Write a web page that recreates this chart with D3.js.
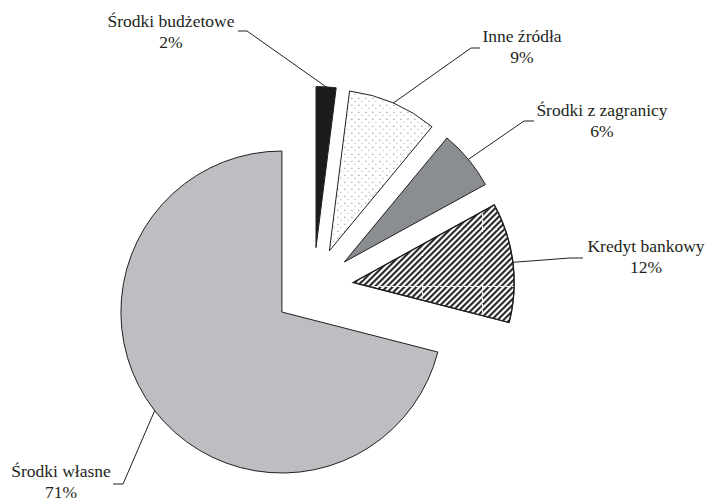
<!DOCTYPE html>
<html>
<head>
<meta charset="utf-8">
<script src="https://cdn.jsdelivr.net/npm/d3@7"></script>
<style>
  body { margin: 0; background: #ffffff; }
</style>
</head>
<body>
<div id="chart"></div>
<script>
const categories = ["Środki budżetowe", "Inne źródła", "Środki z zagranicy", "Kredyt bankowy", "Środki własne"];
const values = [2, 9, 6, 12, 71];
const percentLabels = ["2%", "9%", "6%", "12%", "71%"];

const width = 706, height = 501;
const center = [313.5, 287.5],
  radius = 161,
  explode = 40;

// label placement: text centre, elbow of the leader, end of the leader
const labelLayout = [
  {tx: 171, ty: 27, elbow: [247, 31], end: [238, 31]},
  {tx: 522, ty: 42, elbow: [471, 48], end: [480, 48]},
  {tx: 602, ty: 116, elbow: [524, 121], end: [534, 121]},
  {tx: 646, ty: 252, elbow: [570, 258], end: [583, 258]},
  {tx: 61, ty: 477, elbow: [123, 484], end: [113, 484]}
];

const fills = ["#1d1b1c", "url(#dots)", "#8a8d92", "url(#hatch)", "#bcbec1"];
const fontStack = "'Times New Roman', Times, 'Liberation Serif', serif";

const pie = d3.pie().sort(null).value(d => d)(values);
const arc = d3.arc().innerRadius(0).outerRadius(radius);
const offset = d => {
  const a = (d.startAngle + d.endAngle) / 2;
  return [explode * Math.sin(a), -explode * Math.cos(a)];
};

const svg = d3.select("#chart")
  .append("svg")
  .attr("width", width)
  .attr("height", height);

const defs = svg.append("defs");

// dotted fill
const dots = defs.append("pattern")
  .attr("id", "dots")
  .attr("patternUnits", "userSpaceOnUse")
  .attr("width", 7)
  .attr("height", 7);
dots.append("rect").attr("width", 7).attr("height", 7).attr("fill", "#ffffff");
dots.append("rect").attr("x", 1).attr("y", 1).attr("width", 1).attr("height", 1).attr("fill", "#6a6a6a");
dots.append("rect").attr("x", 4).attr("y", 4).attr("width", 1).attr("height", 1).attr("fill", "#a0a0a0");

// diagonal hatch, built from whole pixels so it stays crisp
const hatchSize = 6;
const hatch = defs.append("pattern")
  .attr("id", "hatch")
  .attr("patternUnits", "userSpaceOnUse")
  .attr("width", hatchSize)
  .attr("height", hatchSize);
hatch.append("rect").attr("width", hatchSize).attr("height", hatchSize).attr("fill", "#ffffff");
for (let x = 0; x < hatchSize; x++) {
  for (let y = 0; y < hatchSize; y++) {
    const k = (x + y) % hatchSize;
    if (k < 3) {
      hatch.append("rect")
        .attr("x", x).attr("y", y)
        .attr("width", 1).attr("height", 1)
        .attr("fill", k === 2 ? "#555555" : "#111111")
        .attr("shape-rendering", "crispEdges");
    }
  }
}

// white dashed grid seen over the hatch (placed in page coords, slice is translated)
const kOff = offset(pie[3]);
const grid = defs.append("pattern")
  .attr("id", "grid")
  .attr("patternUnits", "userSpaceOnUse")
  .attr("x", 422 - center[0] - kOff[0])
  .attr("y", 229 - center[1] - kOff[1])
  .attr("width", 60)
  .attr("height", 57);
grid.append("path")
  .attr("d", "M0.5,0V57M0,0.5H60")
  .attr("stroke", "#ffffff")
  .attr("stroke-width", 1.2)
  .attr("stroke-dasharray", "3,3")
  .attr("fill", "none");

const g = svg.append("g")
  .attr("transform", `translate(${center[0]},${center[1]})`);

const slices = g.selectAll("g.slice")
  .data(pie)
  .enter()
  .append("g")
  .attr("class", "slice")
  .attr("transform", d => `translate(${offset(d)})`);

slices.append("path")
  .attr("d", arc)
  .attr("fill", (d, i) => fills[i])
  .attr("stroke", "#231f20")
  .attr("stroke-width", 1);

// grid overlay on the hatched slice, then its outline again on top
const kredyt = slices.filter((d, i) => i === 3);
kredyt.append("path")
  .attr("d", arc)
  .attr("fill", "url(#grid)");
kredyt.append("path")
  .attr("d", arc)
  .attr("fill", "none")
  .attr("stroke", "#231f20")
  .attr("stroke-width", 1.3);

// leader lines and labels
pie.forEach((d, i) => {
  const a = (d.startAngle + d.endAngle) / 2;
  const r = explode + radius;
  const sx = center[0] + r * Math.sin(a),
    sy = center[1] - r * Math.cos(a);
  const L = labelLayout[i];
  svg.append("path")
    .attr("d", d3.line()([[sx, sy], L.elbow, L.end]))
    .attr("fill", "none")
    .attr("stroke", "#231f20")
    .attr("stroke-width", 1);

  const t = svg.append("text")
    .attr("x", L.tx)
    .attr("y", L.ty)
    .attr("text-anchor", "middle")
    .style("font-family", fontStack)
    .style("font-size", "17.5px")
    .style("fill", "#231f20");
  t.append("tspan").attr("x", L.tx).text(categories[i]);
  t.append("tspan").attr("x", L.tx).attr("dy", 20.5).text(percentLabels[i]);
});
</script>
</body>
</html>
